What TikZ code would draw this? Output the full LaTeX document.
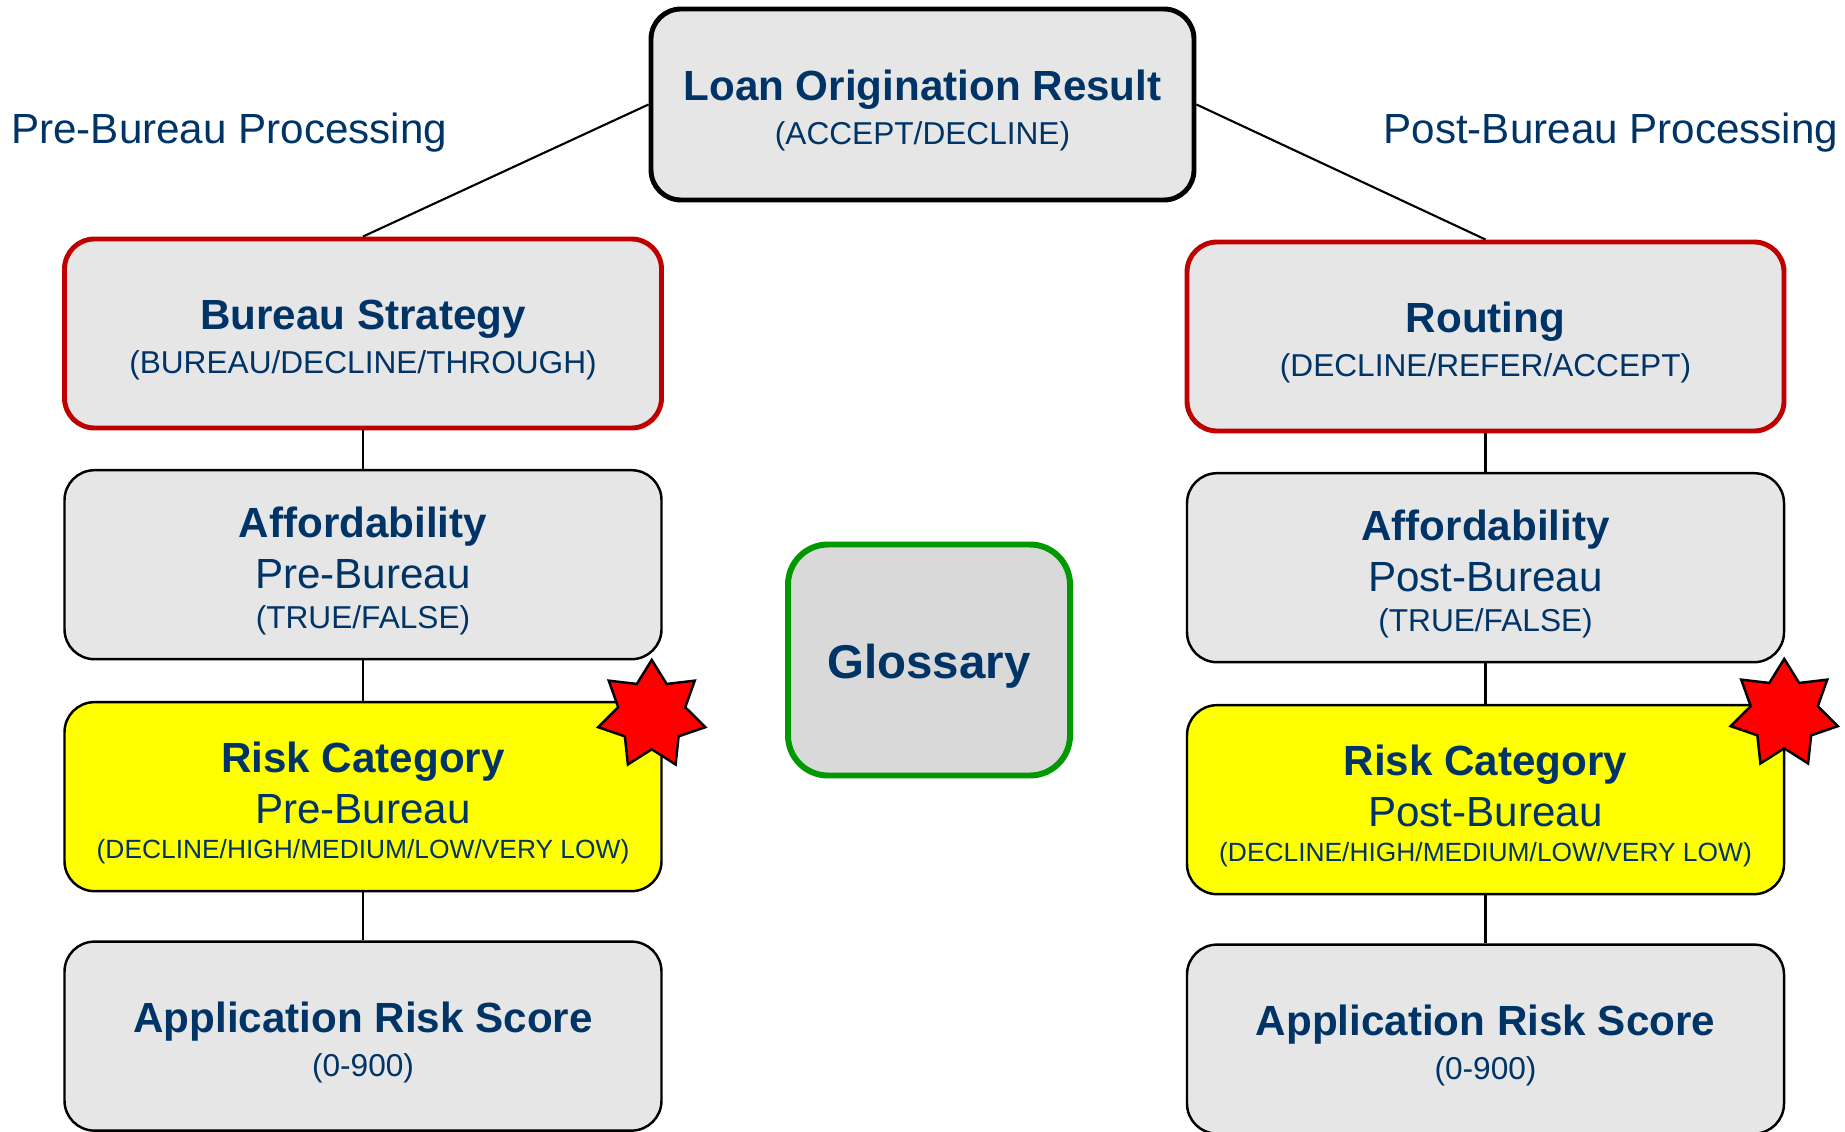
\documentclass[tikz,border=0pt]{standalone}
\usepackage{fontspec}
\setmainfont{Liberation Sans}
\usepackage{tikz}
\usetikzlibrary{positioning,shapes.geometric}
\definecolor{navy}{RGB}{0,51,102}
\definecolor{boxgray}{RGB}{230,230,230}
\definecolor{glossgray}{RGB}{217,217,217}
\definecolor{stratred}{RGB}{192,0,0}
\definecolor{glossgreen}{RGB}{0,153,0}
\definecolor{riskyellow}{RGB}{255,255,0}
\newcommand{\hd}[1]{{\fontsize{24}{25}\selectfont\bfseries #1}}
\newcommand{\md}[1]{{\fontsize{24}{25}\selectfont #1}}
\newcommand{\sm}[1]{{\fontsize{18}{25}\selectfont #1}}
\newcommand{\xs}[1]{{\fontsize{15}{25}\selectfont #1}}
% pushes the texts a bit lower in their boxes
\newcommand{\tall}{\rule{0pt}{24.5pt}}

\begin{document}
\begin{tikzpicture}[
  box/.style={draw, line width=1.4pt, rounded corners=0.6cm, fill=boxgray,
              minimum width=11.94cm, minimum height=3.78cm, align=center, text=navy,
              font=\fontsize{24}{25}\selectfont},
  redbox/.style={box, draw=stratred, line width=2.8pt},
  riskbox/.style={box, fill=riskyellow},
  link/.style={line width=1.2pt},
  side/.style={text=navy, font=\fontsize{24}{29}\selectfont},
  burst/.style={star, star points=7, star point ratio=1.6, draw, line width=1.4pt,
                fill=red, minimum size=2.2cm, inner sep=0pt}
]
\useasboundingbox (0,0) rectangle (36.9,-22.64);

% top level result
\node[box, line width=2.8pt, minimum width=10.86cm, minimum height=3.82cm] (result) at (18.45,-2.09)
  {\tall\hd{Loan Origination Result}\\ \sm{(ACCEPT/DECLINE)}};

\node[side, anchor=west] (prelbl) at (0.1,-2.66) {Pre-Bureau Processing};
\node[side, anchor=east] (postlbl) at (36.89,-2.66) {Post-Bureau Processing};

% pre-bureau column
\node[redbox] (bureau) at (7.26,-6.67) {\tall\hd{Bureau Strategy}\\ \sm{(BUREAU/DECLINE/THROUGH)}};
\node[box, below=0.77cm of bureau] (affpre) {\tall\hd{Affordability}\\[4pt] \md{Pre-Bureau}\\[-2pt] \sm{(TRUE/FALSE)}};
\node[riskbox, below=0.81cm of affpre] (riskpre) {\tall\hd{Risk Category}\\[4pt] \md{Pre-Bureau}\\[-5pt] \xs{(DECLINE/HIGH/MEDIUM/LOW/VERY LOW)}};
\node[box, below=0.96cm of riskpre] (scorepre) {\tall\hd{Application Risk Score}\\ \sm{(0-900)}};

% post-bureau column
\node[redbox] (routing) at (29.71,-6.73) {\tall\hd{Routing}\\ \sm{(DECLINE/REFER/ACCEPT)}};
\node[box, below=0.77cm of routing] (affpost) {\tall\hd{Affordability}\\[4pt] \md{Post-Bureau}\\[-2pt] \sm{(TRUE/FALSE)}};
\node[riskbox, below=0.81cm of affpost] (riskpost) {\tall\hd{Risk Category}\\[4pt] \md{Post-Bureau}\\[-5pt] \xs{(DECLINE/HIGH/MEDIUM/LOW/VERY LOW)}};
\node[box, below=0.96cm of riskpost] (scorepost) {\tall\hd{Application Risk Score}\\ \sm{(0-900)}};

\node[box, draw=glossgreen, line width=3.4pt, fill=glossgray, rounded corners=0.8cm,
      minimum width=5.64cm, minimum height=4.62cm] (gloss) at (18.58,-13.2)
  {\rule{0pt}{26.4pt}{\fontsize{27}{32}\selectfont\bfseries Glossary}};

\node[burst] (starpre) at ([shift={(-0.22,-0.28)}]riskpre.north east) {};
\node[burst] (starpost) at ([shift={(-0.02,-0.2)}]riskpost.north east) {};

\draw[link] (result.west) -- (bureau.north);
\draw[link] (result.east) -- (routing.north);
\draw[link] (bureau) -- (affpre);
\draw[link] (affpre) -- (riskpre);
\draw[link] (riskpre) -- (scorepre);
\draw[link] (routing) -- (affpost);
\draw[link] (affpost) -- (riskpost);
\draw[link] (riskpost) -- (scorepost);
\end{tikzpicture}
\end{document}
